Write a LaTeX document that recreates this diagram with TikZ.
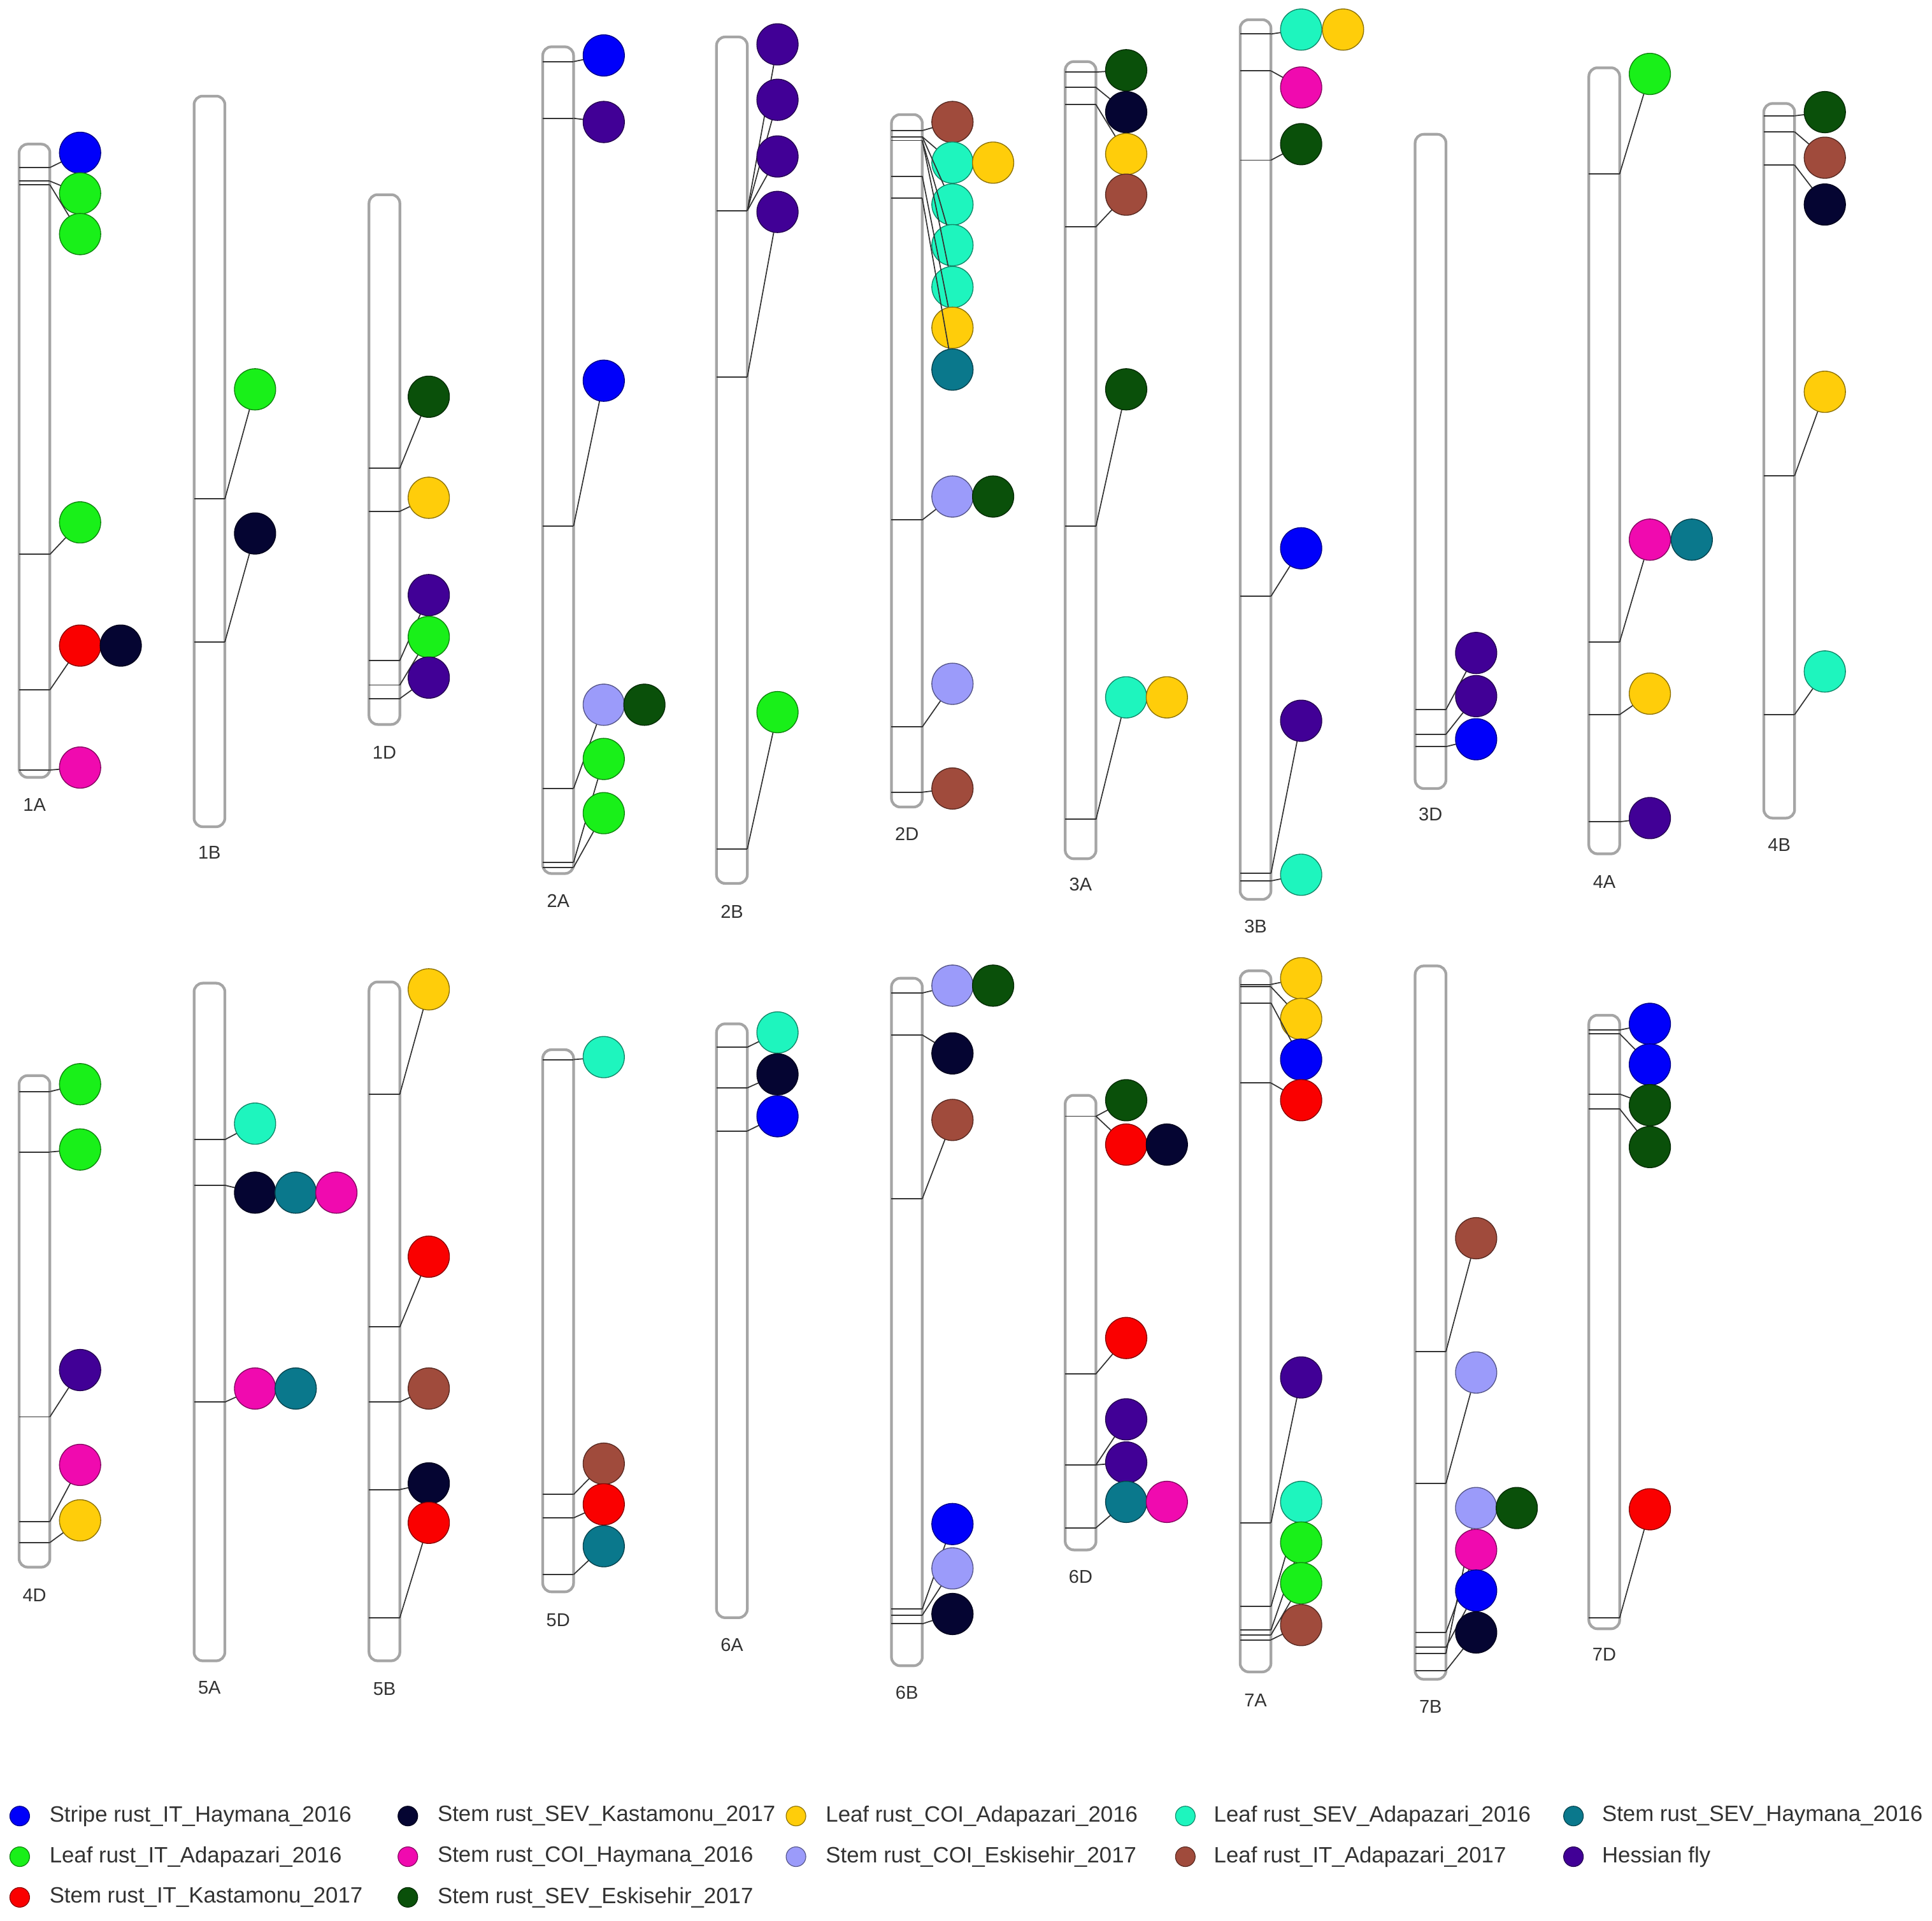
\documentclass[tikz,border=0pt]{standalone}
\usepackage{fontspec}
\setmainfont{Liberation Sans}
\definecolor{cblue}{RGB}{0,0,250}
\definecolor{cgreen}{RGB}{25,240,25}
\definecolor{cred}{RGB}{250,0,0}
\definecolor{cnavy}{RGB}{5,5,50}
\definecolor{cpink}{RGB}{240,10,175}
\definecolor{cdkgreen}{RGB}{10,80,10}
\definecolor{cyellow}{RGB}{255,205,10}
\definecolor{clav}{RGB}{155,155,250}
\definecolor{cmint}{RGB}{30,245,190}
\definecolor{cbrown}{RGB}{160,75,60}
\definecolor{cteal}{RGB}{10,120,140}
\definecolor{cpurple}{RGB}{65,0,150}
\definecolor{chromgray}{RGB}{165,165,165}
\definecolor{txtgray}{RGB}{50,50,50}
\tikzset{
  chrom/.style={draw=chromgray, line width=2.2pt, fill=white, rounded corners=7pt},
  markline/.style={draw=black!80, line width=1pt},
  conn/.style={draw=black!80, line width=0.9pt},
  dot/.style={circle, inner sep=0pt, minimum size=33.5pt, fill=#1, draw=#1!55!black, line width=0.7pt},
  ldot/.style={circle, inner sep=0pt, minimum size=16pt, fill=#1, draw=#1!55!black, line width=0.6pt},
  lab/.style={font=\fontsize{15}{18}\selectfont, text=txtgray},
  ltext/.style={font=\fontsize{18}{21}\selectfont, text=txtgray, anchor=west, inner sep=0pt}
}
% chromosome: label, centre x, top, bottom, label y
\newcommand\Chr[5]{%
  \draw[chrom] ({#2-12.5},#3) rectangle ({#2+12.5},#4);
  \node[lab] (L#1) at (#2,#5) {#1};}
% circle with no marker of its own: name, colour, x, y
\newcommand\Ball[4]{\node[dot=#2] (#1) at (#3,#4) {};}
% marker + connector + circle: name, colour, chromosome x, marker y, circle x, circle y
\newcommand\MB[6]{%
  \coordinate (#1L) at ({#3-12.5},#4);
  \coordinate (#1R) at ({#3+12.5},#4);
  \coordinate (#1C) at (#5,#6);
  \draw[markline] (#1L) -- (#1R);
  \draw[conn] (#1R) -- (#1C);
  \node[dot=#2] (#1) at (#1C) {};}
\begin{document}
\begin{tikzpicture}[x=1pt,y=-1pt]
\useasboundingbox (0,0) rectangle (1568,1559);
% ---------------- 1A
\Chr{1A}{28}{117}{631}{653}
\MB{a1A}{cblue}{28}{136}{65}{124}
\MB{b1A}{cgreen}{28}{147}{65}{157}
\MB{c1A}{cgreen}{28}{150}{65}{190}
\MB{d1A}{cgreen}{28}{450}{65}{424}
\MB{e1A}{cred}{28}{560}{65}{524}
\Ball{f1A}{cnavy}{98}{524}
\MB{g1A}{cpink}{28}{625}{65}{623}
% ---------------- 1B
\Chr{1B}{170}{78}{671}{692}
\MB{a1B}{cgreen}{170}{405}{207}{316}
\MB{b1B}{cnavy}{170}{521}{207}{433}
% ---------------- 1D
\Chr{1D}{312}{158}{588}{611}
\MB{a1D}{cdkgreen}{312}{380}{348}{322}
\MB{b1D}{cyellow}{312}{415}{348}{404}
\MB{c1D}{cpurple}{312}{536}{348}{483}
\MB{d1D}{cgreen}{312}{556}{348}{517}
\MB{e1D}{cpurple}{312}{567}{348}{550}
% ---------------- 2A
\Chr{2A}{453}{38}{709}{731}
\MB{a2A}{cblue}{453}{50}{490}{45}
\MB{b2A}{cpurple}{453}{96}{490}{99}
\MB{c2A}{cblue}{453}{427}{490}{309}
\MB{d2A}{clav}{453}{640}{490}{572}
\Ball{e2A}{cdkgreen}{523}{572}
\MB{f2A}{cgreen}{453}{700}{490}{616}
\MB{g2A}{cgreen}{453}{704}{490}{660}
% ---------------- 2B
\Chr{2B}{594}{30}{717}{740}
\MB{a2B}{cpurple}{594}{171}{631}{36}
\MB{b2B}{cpurple}{594}{171}{631}{81}
\MB{c2B}{cpurple}{594}{171}{631}{127}
\MB{d2B}{cpurple}{594}{306}{631}{172}
\MB{e2B}{cgreen}{594}{689}{631}{578}
% ---------------- 2D
\Chr{2D}{736}{93}{655}{677}
\MB{a2D}{cbrown}{736}{106}{773}{99}
\MB{b2D}{cmint}{736}{111}{773}{132}
\Ball{c2D}{cyellow}{806}{132}
\MB{d2D}{cmint}{736}{111}{773}{166}
\MB{e2D}{cmint}{736}{114}{773}{199}
\MB{f2D}{cmint}{736}{114}{773}{233}
\MB{g2D}{cyellow}{736}{143}{773}{266}
\MB{h2D}{cteal}{736}{161}{773}{300}
\MB{i2D}{clav}{736}{422}{773}{403}
\Ball{j2D}{cdkgreen}{806}{403}
\MB{k2D}{clav}{736}{590}{773}{555}
\MB{l2D}{cbrown}{736}{643}{773}{640}
% ---------------- 3A
\Chr{3A}{877}{50}{697}{718}
\MB{a3A}{cdkgreen}{877}{58.5}{914}{57}
\MB{b3A}{cnavy}{877}{71}{914}{91}
\MB{c3A}{cyellow}{877}{85}{914}{125}
\MB{d3A}{cbrown}{877}{184}{914}{158}
\MB{e3A}{cdkgreen}{877}{427}{914}{316}
\MB{f3A}{cmint}{877}{665}{914}{566}
\Ball{g3A}{cyellow}{947}{566}
% ---------------- 3B
\Chr{3B}{1019}{16}{730}{752}
\MB{a3B}{cmint}{1019}{27.6}{1056}{24}
\Ball{b3B}{cyellow}{1090}{24}
\MB{c3B}{cpink}{1019}{57.5}{1056}{71}
\MB{d3B}{cdkgreen}{1019}{130}{1056}{117}
\MB{e3B}{cblue}{1019}{484}{1056}{445}
\MB{f3B}{cpurple}{1019}{709}{1056}{585}
\MB{g3B}{cmint}{1019}{715}{1056}{710}
% ---------------- 3D
\Chr{3D}{1161}{109}{640}{661}
\MB{a3D}{cpurple}{1161}{576}{1198}{530}
\MB{b3D}{cpurple}{1161}{596}{1198}{565}
\MB{c3D}{cblue}{1161}{606}{1198}{600}
% ---------------- 4A
\Chr{4A}{1302}{55}{693}{716}
\MB{a4A}{cgreen}{1302}{141}{1339}{60}
\MB{b4A}{cpink}{1302}{521}{1339}{438}
\Ball{c4A}{cteal}{1373}{438}
\MB{d4A}{cyellow}{1302}{580}{1339}{563}
\MB{e4A}{cpurple}{1302}{667}{1339}{664}
% ---------------- 4B
\Chr{4B}{1444}{84}{664}{686}
\MB{a4B}{cdkgreen}{1444}{94}{1481}{91}
\MB{b4B}{cbrown}{1444}{107}{1481}{128}
\MB{c4B}{cnavy}{1444}{134}{1481}{166}
\MB{d4B}{cyellow}{1444}{386}{1481}{318}
\MB{e4B}{cmint}{1444}{580}{1481}{545}
% ---------------- 4D
\Chr{4D}{28}{873}{1272}{1295}
\MB{a4D}{cgreen}{28}{886}{65}{880}
\MB{b4D}{cgreen}{28}{935}{65}{933}
\MB{c4D}{cpurple}{28}{1150}{65}{1112}
\MB{d4D}{cpink}{28}{1235}{65}{1189}
\MB{e4D}{cyellow}{28}{1252}{65}{1234}
% ---------------- 5A
\Chr{5A}{170}{798}{1348}{1370}
\MB{a5A}{cmint}{170}{925}{207}{912}
\MB{b5A}{cnavy}{170}{962}{207}{968}
\Ball{c5A}{cteal}{240}{968}
\Ball{d5A}{cpink}{273}{968}
\MB{e5A}{cpink}{170}{1138}{207}{1127}
\Ball{f5A}{cteal}{240}{1127}
% ---------------- 5B
\Chr{5B}{312}{797}{1348}{1371}
\MB{a5B}{cyellow}{312}{888}{348}{803}
\MB{b5B}{cred}{312}{1077}{348}{1020}
\MB{c5B}{cbrown}{312}{1138}{348}{1127}
\MB{d5B}{cnavy}{312}{1209}{348}{1204}
\MB{e5B}{cred}{312}{1313}{348}{1236}
% ---------------- 5D
\Chr{5D}{453}{852}{1292}{1315}
\MB{a5D}{cmint}{453}{860}{490}{858}
\MB{b5D}{cbrown}{453}{1213}{490}{1188}
\MB{c5D}{cred}{453}{1232}{490}{1221}
\MB{d5D}{cteal}{453}{1278}{490}{1255}
% ---------------- 6A
\Chr{6A}{594}{831}{1313}{1335}
\MB{a6A}{cmint}{594}{850}{631}{838}
\MB{b6A}{cnavy}{594}{883}{631}{872}
\MB{c6A}{cblue}{594}{918}{631}{906}
% ---------------- 6B
\Chr{6B}{736}{794}{1352}{1374}
\MB{a6B}{clav}{736}{806}{773}{800}
\Ball{b6B}{cdkgreen}{806}{800}
\MB{c6B}{cnavy}{736}{840}{773}{855}
\MB{d6B}{cbrown}{736}{973}{773}{909}
\MB{e6B}{cblue}{736}{1306}{773}{1237}
\MB{f6B}{clav}{736}{1311}{773}{1273}
\MB{g6B}{cnavy}{736}{1318}{773}{1310}
% ---------------- 6D
\Chr{6D}{877}{889}{1258}{1280}
\MB{a6D}{cdkgreen}{877}{906}{914}{893}
\MB{b6D}{cred}{877}{906}{914}{929}
\Ball{c6D}{cnavy}{947}{929}
\MB{d6D}{cred}{877}{1115}{914}{1086}
\MB{e6D}{cpurple}{877}{1189}{914}{1152}
\MB{f6D}{cpurple}{877}{1189}{914}{1187}
\MB{g6D}{cteal}{877}{1240}{914}{1219}
\Ball{h6D}{cpink}{947}{1219}
% ---------------- 7A
\Chr{7A}{1019}{788}{1357}{1380}
\MB{a7A}{cyellow}{1019}{799}{1056}{794}
\MB{b7A}{cyellow}{1019}{801}{1056}{827}
\MB{c7A}{cblue}{1019}{814}{1056}{860}
\MB{d7A}{cred}{1019}{879}{1056}{893}
\MB{e7A}{cpurple}{1019}{1236}{1056}{1118}
\MB{f7A}{cmint}{1019}{1304}{1056}{1219}
\MB{g7A}{cgreen}{1019}{1323}{1056}{1252}
\MB{h7A}{cgreen}{1019}{1327}{1056}{1285}
\MB{i7A}{cbrown}{1019}{1331}{1056}{1319}
% ---------------- 7B
\Chr{7B}{1161}{784}{1363}{1385}
\MB{a7B}{cbrown}{1161}{1097}{1198}{1005}
\MB{b7B}{clav}{1161}{1204}{1198}{1114}
\MB{c7B}{clav}{1161}{1342}{1198}{1224}
\Ball{d7B}{cdkgreen}{1231}{1224}
\MB{e7B}{cpink}{1161}{1325}{1198}{1258}
\MB{f7B}{cblue}{1161}{1337}{1198}{1291}
\MB{g7B}{cnavy}{1161}{1356}{1198}{1325}
% ---------------- 7D
\Chr{7D}{1302}{824}{1322}{1343}
\MB{a7D}{cblue}{1302}{836}{1339}{831}
\MB{b7D}{cblue}{1302}{839}{1339}{864}
\MB{c7D}{cdkgreen}{1302}{888}{1339}{897}
\MB{d7D}{cdkgreen}{1302}{900}{1339}{931}
\MB{e7D}{cred}{1302}{1313}{1339}{1225}
% ---------------- legend
\node[ldot=cblue] (g1) at (16,1474) {};
\node[ltext] (t1) at (40,1474) {Stripe rust\_IT\_Haymana\_2016};
\node[ldot=cgreen] (g2) at (16,1507) {};
\node[ltext] (t2) at (40,1507) {Leaf rust\_IT\_Adapazari\_2016};
\node[ldot=cred] (g3) at (16,1540) {};
\node[ltext] (t3) at (40,1540) {Stem rust\_IT\_Kastamonu\_2017};
\node[ldot=cnavy] (g4) at (331,1474) {};
\node[ltext] (t4) at (355,1474) {Stem rust\_SEV\_Kastamonu\_2017};
\node[ldot=cpink] (g5) at (331,1507) {};
\node[ltext] (t5) at (355,1507) {Stem rust\_COI\_Haymana\_2016};
\node[ldot=cdkgreen] (g6) at (331,1540) {};
\node[ltext] (t6) at (355,1540) {Stem rust\_SEV\_Eskisehir\_2017};
\node[ldot=cyellow] (g7) at (646,1474) {};
\node[ltext] (t7) at (670,1474) {Leaf rust\_COI\_Adapazari\_2016};
\node[ldot=clav] (g8) at (646,1507) {};
\node[ltext] (t8) at (670,1507) {Stem rust\_COI\_Eskisehir\_2017};
\node[ldot=cmint] (g9) at (962,1474) {};
\node[ltext] (t9) at (985,1474) {Leaf rust\_SEV\_Adapazari\_2016};
\node[ldot=cbrown] (g10) at (962,1507) {};
\node[ltext] (t10) at (985,1507) {Leaf rust\_IT\_Adapazari\_2017};
\node[ldot=cteal] (g11) at (1277,1474) {};
\node[ltext] (t11) at (1300,1474) {Stem rust\_SEV\_Haymana\_2016};
\node[ldot=cpurple] (g12) at (1277,1507) {};
\node[ltext] (t12) at (1300,1507) {Hessian fly};
\end{tikzpicture}
\end{document}
